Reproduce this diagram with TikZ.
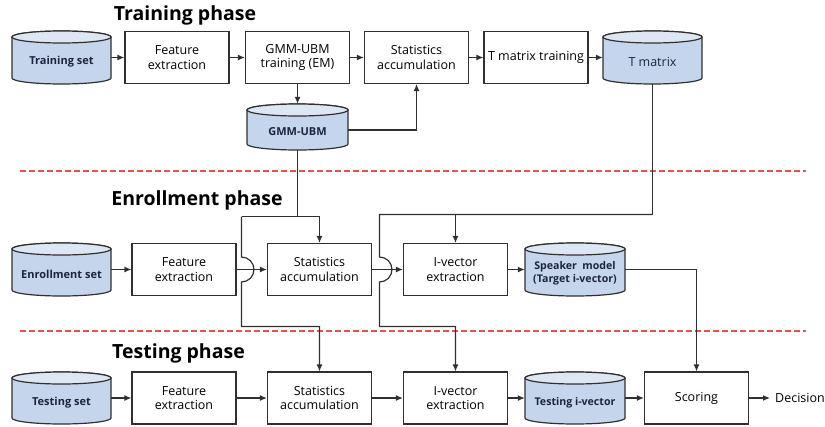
\documentclass[tikz,border=0pt]{standalone}
\usepackage{fontspec}
\setmainfont{Open Sans}
\usetikzlibrary{arrows.meta}
\definecolor{lineg}{HTML}{303030}
\definecolor{dbfill}{HTML}{C5D5EB}
\definecolor{dbtopfill}{HTML}{DDE7F3}
\definecolor{dbtext}{HTML}{1C2540}
\definecolor{sepred}{RGB}{236,80,76}
\begin{document}
\begin{tikzpicture}[x=1pt,y=-1pt,
  every node/.style={inner sep=0pt},
  procbox/.style={draw=lineg, line width=1.2pt, fill=white, minimum width=104pt,
    minimum height=52pt, align=center, font=\fontsize{12.5}{14.5}\selectfont},
  dbarea/.style={minimum height=53pt},
  dblabel/.style={font=\fontsize{11}{13}\selectfont\bfseries, text=dbtext, align=center},
  dbbody/.style={fill=dbfill, draw=lineg, line width=1.2pt},
  dbtop/.style={fill=dbtopfill, draw=lineg, line width=1.2pt},
  flow/.style={draw=lineg, line width=1.2pt, -{Latex[length=7pt,width=6pt]}},
  wire/.style={draw=lineg, line width=1.2pt},
  phase/.style={font=\fontsize{19.5}{22}\selectfont\bfseries, anchor=base},
  sepline/.style={draw=sepred, line width=1.3pt, dash pattern=on 6pt off 3pt}
]
\useasboundingbox (0,0) rectangle (825,426);

% phase separators
\draw[sepline] (20,171) -- (806,171);
\draw[sepline] (20,331) -- (806,331);

% phase titles
\node[phase] (t1) at (185,20) {Training phase};
\node[phase] (t2) at (197,205) {Enrollment phase};
\node[phase] (t3) at (178.5,358) {Testing phase};

% database cylinders: centre x / top / bottom / half width
\foreach \cx/\yt/\yb/\r in {61.5/31/84/49.5, 297.5/104/150/50.5, 652.5/31/84/49.5,
    61.5/243/296/49.5, 575/243/296/50, 61.5/372/424/49.5, 575/372/424/50} {
  \path[dbbody] (\cx-\r,\yt+6) -- (\cx-\r,\yb-6)
    arc[start angle=180, end angle=360, x radius=\r pt, y radius=6pt]
    -- (\cx+\r,\yt+6)
    arc[start angle=0, end angle=180, x radius=\r pt, y radius=6pt] -- cycle;
  \path[dbtop] (\cx,\yt+6) ellipse[x radius=\r pt, y radius=6pt];
}

% database areas (for connections) and their labels
\node[dbarea, minimum width=99pt]  (ts)  at (61.5,57.5) {};
\node[dbarea, minimum width=101pt, minimum height=46pt] (gmm) at (297.5,127) {};
\node[dbarea, minimum width=99pt]  (tm)  at (652.5,57.5) {};
\node[dbarea, minimum width=99pt]  (es)  at (61.5,269.5) {};
\node[dbarea, minimum width=100pt] (spk) at (575,269.5) {};
\node[dbarea, minimum width=99pt]  (tst) at (61.5,398) {};
\node[dbarea, minimum width=100pt] (tiv) at (575,398) {};

\node[dblabel] (tsl)  at (61.5,62) {Training set};
\node[dblabel] (gmml) at (297.5,132) {GMM-UBM};
\node[dblabel, font=\fontsize{12.5}{14}\selectfont] (tml) at (652.5,62) {T matrix};
\node[dblabel] (esl)  at (61.5,274) {Enrollment set};
\node[dblabel, font=\fontsize{10.6}{13}\selectfont\bfseries] (spkl) at (575,273.5) {Speaker~~model\\(Target i-vector)};
\node[dblabel] (tstl) at (61.5,402.5) {Testing set};
\node[dblabel, font=\fontsize{10.6}{13}\selectfont\bfseries] (tivl) at (575,402.5) {Testing i-vector};

% processing blocks
\node[procbox] (fe1)  at (177,57.5)  {Feature\\extraction};
\node[procbox] (gmmt) at (297.5,57.5)  {GMM-UBM\\training (EM)};
\node[procbox] (sa1)  at (416.5,57.5) {Statistics\\accumulation};
\node[procbox] (tmt)  at (536,57.5)  {T matrix training};

\node[procbox] (fe2) at (184,269.5) {Feature\\extraction};
\node[procbox] (sa2) at (319.5,269.5) {Statistics\\accumulation};
\node[procbox] (iv2) at (455.5,269.5) {I-vector\\extraction};

\node[procbox] (fe3) at (184,398) {Feature\\extraction};
\node[procbox] (sa3) at (319.5,398) {Statistics\\accumulation};
\node[procbox] (iv3) at (455.5,398) {I-vector\\extraction};
\node[procbox] (sc)  at (696.5,398) {Scoring};

\node[font=\fontsize{12.5}{14}\selectfont, anchor=west] (dec) at (775,398) {Decision};

% training chain
\draw[flow] (ts) -- (fe1);
\draw[flow] (fe1) -- (gmmt);
\draw[flow] (gmmt) -- (sa1);
\draw[flow] (sa1) -- (tmt);
\draw[flow] (tmt) -- (tm);
\draw[flow] (gmmt) -- (gmm);
\draw[flow] ([yshift=-3pt]gmm.east) -| (sa1.south);

% enrollment chain
\draw[flow] (es) -- (fe2);
\draw[flow] (fe2) -- (sa2);
\draw[flow] (sa2) -- (iv2);
\draw[flow] (iv2) -- (spk);

% testing chain
\draw[flow] (tst) -- (fe3);
\draw[flow] (fe3) -- (sa3);
\draw[flow] (sa3) -- (iv3);
\draw[flow] (iv3) -- (tiv);
\draw[flow] (tiv) -- (sc);
\draw[flow] (sc) -- ([xshift=-5pt]dec.west);

% UBM distribution to both statistics blocks
\coordinate (ubmsplit) at (297.5,216.5);
\coordinate (ubmleft)  at (241.5,216.5);
\coordinate (hopA)     at (241.5,269.5);
\coordinate (ubmlow)   at (241.5,326.5);
\draw[wire] (gmm.south) -- (ubmsplit);
\draw[flow] (ubmleft) -| (sa2.north);
\draw[flow] (ubmleft) -- ([yshift=12.5pt]hopA)
  arc[start angle=90, end angle=-90, radius=12.5pt] -- (ubmlow) -| (sa3.north);

% T matrix distribution to both extractors
\coordinate (tsplit) at (652.5,214.5);
\coordinate (tleft)  at (379.5,214.5);
\coordinate (hopB)   at (379.5,269.5);
\coordinate (tlow)   at (379.5,326.5);
\draw[wire] (tm.south) -- (tsplit);
\draw[flow] (tsplit) -| (iv2.north);
\draw[flow] (tsplit) -- (tleft) -- ([yshift=12.5pt]hopB)
  arc[start angle=90, end angle=-90, radius=12.5pt] -- (tlow) -| (iv3.north);

% enrolled speaker model to scoring
\draw[flow] (spk.east) -| (sc.north);
\end{tikzpicture}
\end{document}
